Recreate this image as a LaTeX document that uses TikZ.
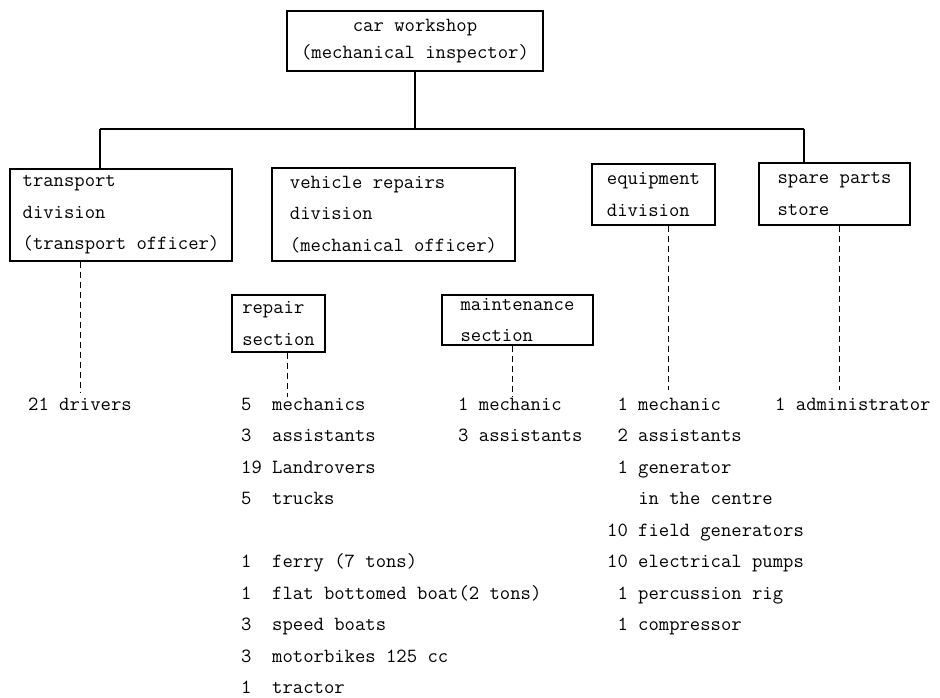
\documentclass[tikz,border=0pt]{standalone}
\usepackage{fontspec}
\usetikzlibrary{positioning}

\begin{document}
\begin{tikzpicture}[x=1pt,y=-1pt,font=\ttfamily\fontsize{20.1}{31.5}\selectfont,
  unit/.style={draw,line width=1.3pt,align=left,inner sep=0pt},
  items/.style={align=left,inner sep=0pt,anchor=base west},
  link/.style={line width=1.1pt},
  staff/.style={line width=1pt,dash pattern=on 6pt off 4pt}]
\useasboundingbox (0,0) rectangle (940,698);
% boxes
\node[unit,align=center,minimum width=256pt,minimum height=60pt] (shop) at (415,41) {car workshop\\[-4pt](mechanical inspector)};
\node[unit,minimum width=222pt,minimum height=92pt] (transport) at (121,215) {transport\\division\\(transport officer)};
\node[unit,minimum width=243pt,minimum height=93pt] (vehicle) at (393.5,214.5) {vehicle repairs\\division\\(mechanical officer)};
\node[unit,minimum width=123pt,minimum height=61pt] (equip) at (653.5,194.5) {equipment\\division};
\node[unit,minimum width=151pt,minimum height=62pt] (spare) at (834.5,194) {spare parts\\store};
\node[unit,minimum width=93pt,minimum height=57pt] (repair) at (278.5,323.5) {repair\\section};
\node[unit,minimum width=151pt,minimum height=50pt] (maint) at (517.5,320) {maintenance\\section};
% staff lists (placed at the baseline of their last line)
\node[items] (drivers) at (28,410) {21 drivers};
\node[items] (repair-list) at (241,693.5) {5\phantom{0} mechanics\\3\phantom{0} assistants\\19 Landrovers\\5\phantom{0} trucks\\[31.5pt]
  1\phantom{0} ferry (7 tons)\\1\phantom{0} flat bottomed boat(2 tons)\\3\phantom{0} speed boats\\3\phantom{0} motorbikes 125 cc\\1\phantom{0} tractor};
\node[items] (maint-list) at (458,441.5) {1 mechanic\\3 assistants};
\node[items] (equip-list) at (607,630.5) {\phantom{1}1 mechanic\\\phantom{1}2 assistants\\\phantom{1}1 generator\\\phantom{100}in the centre\\
  10 field generators\\10 electrical pumps\\\phantom{1}1 percussion rig\\\phantom{1}1 compressor};
\node[items] (spare-list) at (775,410) {1 administrator};
% tree lines
\coordinate (busL) at (100,129);
\coordinate (busR) at (804,129);
\draw[link] (shop.south) -- (shop.south |- busL);
\draw[link] (busL) -- (busR);
\draw[link] (busL) -- (busL |- transport.north);
\draw[link] (busR) -- (busR |- spare.north);
% dashed lines to staff
\coordinate (transport-end) at (80,393);
\coordinate (repair-end) at (287,397);
\coordinate (maint-end) at (512,397);
\coordinate (equip-end) at (668,390);
\coordinate (spare-end) at (839,390);
\foreach \nd in {transport,repair,maint,equip,spare}
  \draw[staff] (\nd.south -| \nd-end) -- (\nd-end);
\end{tikzpicture}
\end{document}
